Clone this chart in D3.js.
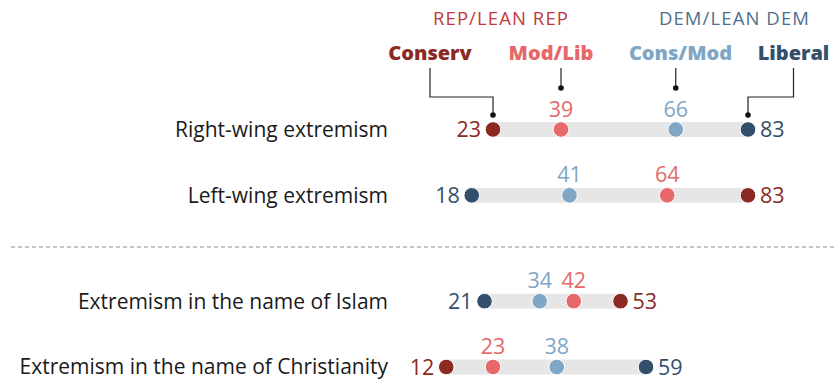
<!DOCTYPE html>
<html>
<head>
<meta charset="utf-8">
<script src="https://cdn.jsdelivr.net/npm/d3@7"></script>
<style>
  html, body { margin: 0; padding: 0; background: #fff; }
  svg { display: block; font-family: "Open Sans", Roboto, sans-serif; }
</style>
</head>
<body>
<svg id="chart" width="838" height="381"></svg>
<script>
// Share saying each kind of extremism is a major problem, by party and ideology
const categories = [
  "Right-wing extremism",
  "Left-wing extremism",
  "Extremism in the name of Islam",
  "Extremism in the name of Christianity"
];
const rowGroup = [0, 0, 1, 1];

const seriesNames = ["Conserv", "Mod/Lib", "Cons/Mod", "Liberal"];
const conserv = [23, 83, 53, 12];
const modLib  = [39, 64, 42, 23];
const consMod = [66, 41, 34, 38];
const liberal = [83, 18, 21, 59];
const seriesColors = ["#8c2923", "#e6686a", "#80a6c5", "#32506c"];

const svg = d3.select("#chart");

const x = d3.scaleLinear().domain([0, 100]).range([395.25, 820.25]);
// rows sit on a point scale, with the second group pushed below a separator
const yIdx = d3.scalePoint().domain(d3.range(categories.length)).range([129.5, 327]);
const y = i => yIdx(i) + rowGroup[i] * 40;

const series = [conserv, modLib, consMod, liberal];

// party header labels
svg.append("text").attr("x", 501).attr("y", 25).attr("text-anchor", "middle")
  .attr("fill", "#c0393a").attr("font-size", 18.5).attr("letter-spacing", 1.1)
  .text("REP/LEAN REP");
svg.append("text").attr("x", 734.5).attr("y", 25).attr("text-anchor", "middle")
  .attr("fill", "#4e6f8d").attr("font-size", 18.5).attr("letter-spacing", 1.1)
  .text("DEM/LEAN DEM");

// series legend labels
const legendX = [430, 551, 680.5, 793.5];
seriesNames.forEach((name, k) => {
  svg.append("text").attr("x", legendX[k]).attr("y", 60).attr("text-anchor", "middle")
    .attr("fill", seriesColors[k]).attr("font-size", 20).attr("font-weight", 800)
    .text(name);
});

// leader lines from legend labels to the first row's dots
const lead = svg.append("g").attr("stroke", "#222").attr("stroke-width", 1.2).attr("fill", "none");
const topY = 68, elbowY = 97, tipY = 115, shortTip = 88;
const r0 = 0;
lead.append("path").attr("d", `M${legendX[0]},${topY}V${elbowY}H${x(conserv[r0])}V${tipY}`);
lead.append("path").attr("d", `M${x(modLib[r0])},${topY}V${shortTip}`);
lead.append("path").attr("d", `M${x(consMod[r0])},${topY}V${shortTip}`);
lead.append("path").attr("d", `M${legendX[3]},${topY}V${elbowY}H${x(liberal[r0])}V${tipY}`);
[[x(conserv[r0]), tipY], [x(modLib[r0]), shortTip], [x(consMod[r0]), shortTip], [x(liberal[r0]), tipY]]
  .forEach(([cx, cy]) => svg.append("circle").attr("cx", cx).attr("cy", cy).attr("r", 2.8).attr("fill", "#111"));

// separator between the two groups
svg.append("line").attr("x1", 11).attr("x2", 834).attr("y1", 247).attr("y2", 247)
  .attr("stroke", "#8c8c8c").attr("stroke-width", 1.2).attr("stroke-dasharray", "4,3");

// rows
categories.forEach((cat, i) => {
  const cy = y(i);
  const vals = series.map(s => s[i]);
  const lo = d3.min(vals), hi = d3.max(vals);

  svg.append("text").attr("x", 388).attr("y", cy).attr("dy", "0.35em")
    .attr("text-anchor", "end").attr("fill", "#1a1a1a").attr("font-size", 21)
    .text(cat);

  svg.append("rect").attr("x", x(lo)).attr("y", cy - 7.5)
    .attr("width", x(hi) - x(lo)).attr("height", 15).attr("fill", "#e6e6e6");

  vals.forEach((v, k) => {
    svg.append("circle").attr("cx", x(v)).attr("cy", cy).attr("r", 7.8)
      .attr("fill", seriesColors[k]).attr("stroke", "#fff").attr("stroke-width", 1);

    const t = svg.append("text").attr("fill", seriesColors[k]).attr("font-size", 21.5).text(v);
    if (v === lo) {
      t.attr("x", x(v) - 12).attr("y", cy).attr("dy", "0.35em").attr("text-anchor", "end");
    } else if (v === hi) {
      t.attr("x", x(v) + 12).attr("y", cy).attr("dy", "0.35em").attr("text-anchor", "start");
    } else {
      t.attr("x", x(v)).attr("y", cy - 13).attr("text-anchor", "middle");
    }
  });
});
</script>
</body>
</html>
